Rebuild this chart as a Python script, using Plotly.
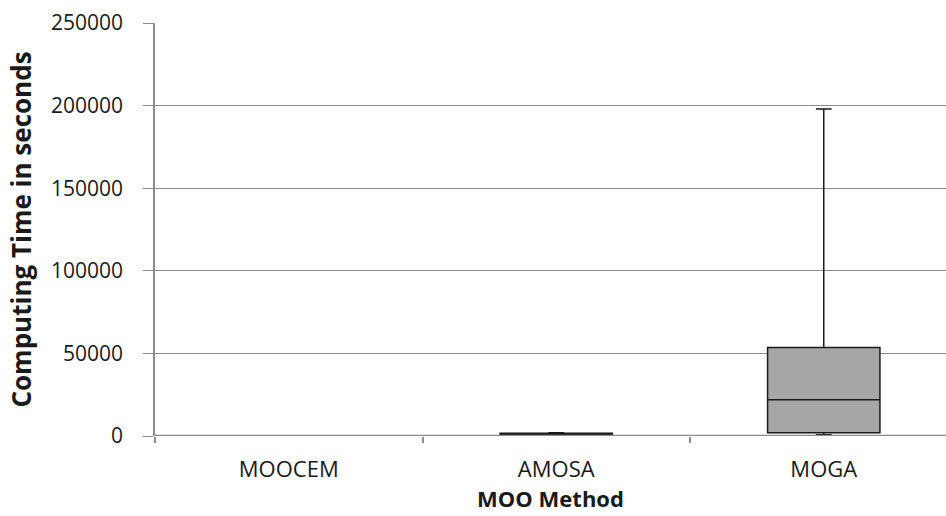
import plotly.graph_objects as go

methods = ["MOOCEM", "AMOSA", "MOGA"]
lower = [2, 200, 800]
q1 = [5, 400, 2000]
median = [10, 900, 22000]
q3 = [20, 1600, 53500]
upper = [40, 1900, 198000]
y_ticks = [0, 50000, 100000, 150000, 200000, 250000]

fig = go.Figure()
fig.add_trace(go.Box(
    x=methods, q1=q1, median=median, q3=q3,
    lowerfence=lower, upperfence=upper,
    fillcolor="#a6a6a6", line=dict(color="#1a1a1a", width=1.5),
    width=0.42, whiskerwidth=0.14, boxpoints=False, showlegend=False,
))

# baseline drawn above the boxes, as the category axis line is in the original
fig.add_shape(type="line", xref="paper", yref="y", x0=0, x1=1, y0=0, y1=0,
              line=dict(color="#8c8c8c", width=2.5), layer="above")

font_family = "Open Sans, Liberation Sans, sans-serif"
fig.update_layout(
    width=946, height=516,
    margin=dict(l=155, r=0, t=23, b=80),
    paper_bgcolor="white", plot_bgcolor="white",
    font=dict(family=font_family, size=21, color="#1a1a1a"),
    xaxis=dict(
        type="category", range=[-0.5, 2.457],
        showline=False,
        ticks="outside", tickson="boundaries", ticklen=6, tickcolor="#8c8c8c", tickwidth=1.5,
        ticklabelstandoff=18, tickfont=dict(size=22),
        showgrid=False,
        title=dict(text="<b>MOO Method</b>", font=dict(size=22), standoff=4),
    ),
    yaxis=dict(
        range=[0, 250000], tickvals=y_ticks, ticktext=[str(v) for v in y_ticks],
        showline=True, linecolor="#8c8c8c", linewidth=1.5,
        ticks="outside", ticklen=10, tickcolor="#8c8c8c",
        ticklabelstandoff=16, tickfont=dict(size=21),
        showgrid=True, gridcolor="#8c8c8c", gridwidth=1.2,
        zeroline=False,
        title=dict(text="<b>Computing Time in seconds</b>", font=dict(size=26), standoff=12),
    ),
)

fig.write_html("out.html")
